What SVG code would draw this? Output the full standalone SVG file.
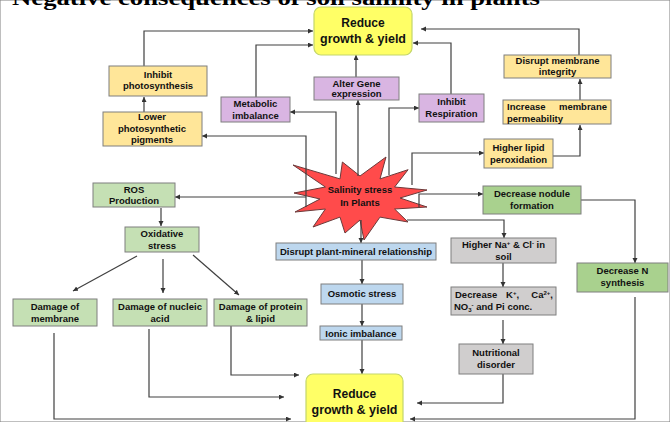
<svg xmlns="http://www.w3.org/2000/svg" width="670" height="422" viewBox="0 0 670 422">
<defs>
<marker id="ah" markerUnits="userSpaceOnUse" markerWidth="6" markerHeight="6" refX="5" refY="2.5" orient="auto">
<path d="M0,0 L5,2.5 L0,5 z" fill="#333"/>
</marker>
<style>
text{font-family:"Liberation Sans",Arial,sans-serif;font-weight:bold;font-size:9.5px;fill:#111;text-anchor:middle}
.big{font-size:12px}
.title{font-family:"Liberation Serif","Times New Roman",serif;font-size:22px;text-anchor:start;fill:#000}
rect{stroke:#7f7f7f;stroke-width:1}
.y{fill:#ffff66;stroke:#c4d66c;stroke-width:1.2}
.o{fill:#ffe699}
.p{fill:#d9b5e2}
.g{fill:#c5e0b4}
.dg{fill:#a9d18e}
.b{fill:#bdd7ee}
.gr{fill:#d0cece}
#connectors path{fill:none;stroke:#404040;stroke-width:1.2;marker-end:url(#ah)}
.l{text-anchor:start}
.r{text-anchor:end}
</style>
</defs>
<rect width="670" height="422" fill="#fff" stroke="none"/>
<text class="title" x="12" y="5" textLength="528" lengthAdjust="spacingAndGlyphs">Negative consequences of soil salinity in plants</text>

<g id="star">
<path d="M427,190 L394.6,187 L408.1,169.7 L380,178.9 L386,157 L360,176 L342.4,162 L340,178.9 L293,165 L325.4,187 L294,193 L320,199 L295,212 L325.4,209 L313,227 L340,217.1 L345,233 L360,220 L364,240 L380,217.1 L408,222 L394.6,209 L427,207 L400,198 Z" fill="#ff4b4b" stroke="#6b3a3a" stroke-width="1"/>
<text x="360" y="193">Salinity stress</text>
<text x="360" y="206">In  Plants</text>
</g>

<g id="connectors">
<path d="M144 66 V31 H313"/>
<path d="M144 112 V97"/>
<path d="M256 97 V45 H313"/>
<path d="M356 77 V55"/>
<path d="M451 94 V43 H413"/>
<path d="M579 55 V29 H421"/>
<path d="M580 100 V79"/>
<path d="M553 156 H580 V125"/>
<path d="M412 185 V153 H484"/>
<path d="M389 175 V108 H419"/>
<path d="M358 176 V100"/>
<path d="M336 174 V112 H290"/>
<path d="M306 207 V136 H202"/>
<path d="M306 197 H175"/>
<path d="M161 208 V226"/>
<path d="M137 256 L73 291"/>
<path d="M163 259 V293"/>
<path d="M193 255 L239 295"/>
<path d="M361 220 V243"/>
<path d="M407 220 H504 V238"/>
<path d="M419 207 V194 H483"/>
<path d="M581 200 H635 V263"/>
<path d="M362 260 V284"/>
<path d="M362 304 V326"/>
<path d="M362 340 V374"/>
<path d="M503 263 V287"/>
<path d="M503 320 V344"/>
<path d="M503 374 V403 H417"/>
<path d="M635 297 V419 H410"/>
<path d="M54 333 V419 H291"/>
<path d="M149 329 V397 H284"/>
<path d="M231 326 V375 H299"/>
</g>

<g id="reduceTop">
<rect class="y" x="314" y="7" width="98" height="48" rx="7"/>
<text class="big" x="363" y="27">Reduce</text>
<text class="big" x="363" y="43" textLength="86" lengthAdjust="spacingAndGlyphs">growth &amp; yield</text>
</g>
<g id="inhibitPhoto">
<rect class="o" x="109" y="66" width="98" height="30"/>
<text x="158" y="78">Inhibit</text>
<text x="158" y="89">photosynthesis</text>
</g>
<g id="lowerPig">
<rect class="o" x="103" y="112" width="99" height="34"/>
<text x="152" y="120">Lower</text>
<text x="152" y="132">photosynthetic</text>
<text x="152" y="143">pigments</text>
</g>
<g id="metabolic">
<rect class="p" x="221" y="97" width="69" height="25"/>
<text x="255.5" y="107">Metabolic</text>
<text x="255.5" y="119">imbalance</text>
</g>
<g id="alterGene">
<rect class="p" x="314" y="77" width="85" height="23"/>
<text x="356.5" y="86.5">Alter Gene</text>
<text x="356.5" y="97">expression</text>
</g>
<g id="inhibitResp">
<rect class="p" x="419" y="94" width="65" height="28"/>
<text x="451.5" y="105">Inhibit</text>
<text x="451.5" y="117">Respiration</text>
</g>
<g id="disruptMem">
<rect class="o" x="504" y="55" width="107" height="23"/>
<text x="557.5" y="64">Disrupt membrane</text>
<text x="557.5" y="75">integrity</text>
</g>
<g id="increaseMem">
<rect class="o" x="503" y="100" width="108" height="24"/>
<text class="l" x="507" y="110">Increase</text>
<text class="r" x="607" y="110">membrane</text>
<text class="l" x="507" y="122">permeability</text>
</g>
<g id="higherLipid">
<rect class="o" x="484" y="139" width="69" height="29"/>
<text x="518.5" y="151">Higher lipid</text>
<text x="518.5" y="163">peroxidation</text>
</g>
<g id="nodule">
<rect class="dg" x="483" y="186" width="98" height="28"/>
<text x="532" y="197">Decrease nodule</text>
<text x="532" y="209">formation</text>
</g>
<g id="ros">
<rect class="g" x="93" y="183" width="82" height="24"/>
<text x="134" y="193">ROS</text>
<text x="134" y="204">Production</text>
</g>
<g id="oxidative">
<rect class="g" x="125" y="227" width="74" height="25"/>
<text x="162" y="237">Oxidative</text>
<text x="162" y="249">stress</text>
</g>
<g id="dmgMem">
<rect class="g" x="13" y="299" width="84" height="27"/>
<text x="55" y="310">Damage of</text>
<text x="55" y="322">membrane</text>
</g>
<g id="dmgNuc">
<rect class="g" x="113" y="299" width="94" height="27"/>
<text x="160" y="310">Damage of nucleic</text>
<text x="160" y="322">acid</text>
</g>
<g id="dmgProt">
<rect class="g" x="214" y="299" width="93" height="27"/>
<text x="260.5" y="310">Damage of protein</text>
<text x="260.5" y="322">&amp; lipid</text>
</g>
<g id="disruptPlant">
<rect class="b" x="276" y="243" width="160" height="17"/>
<text x="356" y="255">Disrupt plant-mineral relationship</text>
</g>
<g id="higherNa">
<rect class="gr" x="451" y="238" width="105" height="25"/>
<text x="503.5" y="248">Higher  Na<tspan font-size="6" dy="-3">+</tspan><tspan dy="3"> &amp; Cl</tspan><tspan font-size="6" dy="-3">-</tspan><tspan dy="3"> in</tspan></text>
<text x="503.5" y="260">soil</text>
</g>
<g id="decN">
<rect class="dg" x="577" y="263" width="91" height="29"/>
<text x="622.5" y="274">Decrease N</text>
<text x="622.5" y="286">synthesis</text>
</g>
<g id="osmotic">
<rect class="b" x="321" y="284" width="82" height="20"/>
<text x="362" y="297">Osmotic stress</text>
</g>
<g id="ionic">
<rect class="b" x="320" y="326" width="82" height="14"/>
<text x="361" y="336.5">Ionic imbalance</text>
</g>
<g id="decK">
<rect class="gr" x="451" y="287" width="105" height="28"/>
<text class="l" x="455" y="298">Decrease</text>
<text class="l" x="506" y="298">K<tspan font-size="6" dy="-3">+</tspan><tspan dy="3">,</tspan></text>
<text class="r" x="553" y="298">Ca<tspan font-size="6" dy="-3">2+</tspan><tspan dy="3">,</tspan></text>
<text class="l" x="454" y="310">NO<tspan font-size="6" dy="2">3</tspan><tspan font-size="6" dy="-5">-</tspan><tspan dy="3"> and Pi conc.</tspan></text>
</g>
<g id="nutritional">
<rect class="gr" x="459" y="344" width="74" height="30"/>
<text x="496" y="356">Nutritional</text>
<text x="496" y="368">disorder</text>
</g>
<g id="reduceBottom">
<rect class="y" x="306" y="374" width="97" height="60" rx="7"/>
<text class="big" x="354.5" y="398">Reduce</text>
<text class="big" x="354.5" y="414" textLength="86" lengthAdjust="spacingAndGlyphs">growth &amp; yield</text>
</g>
</svg>
